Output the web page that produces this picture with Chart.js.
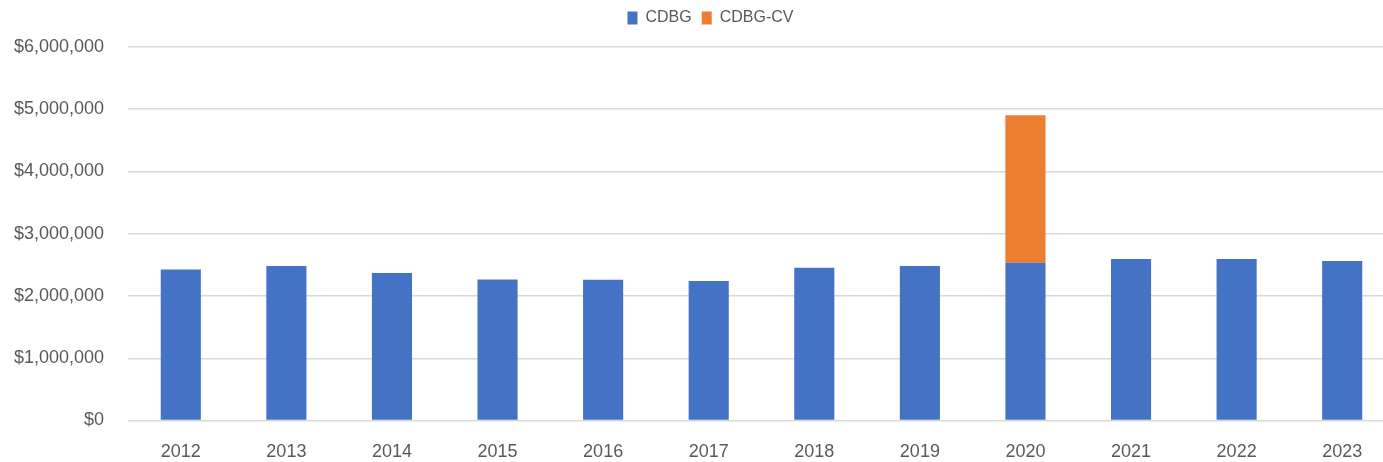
<!DOCTYPE html>
<html>
<head>
<meta charset="utf-8">
<script src="https://cdn.jsdelivr.net/npm/chart.js@4"></script>
<style>
  body { margin: 0; background: #fff; overflow: hidden; }
  #wrap { width: 1395px; height: 462px; position: relative; }
</style>
</head>
<body>
<div id="wrap"><canvas id="grafico"></canvas></div>
<script>
const years = ['2012', '2013', '2014', '2015', '2016', '2017', '2018', '2019', '2020', '2021', '2022', '2023'];
const cdbg = [2425000, 2480000, 2370000, 2265000, 2262000, 2240000, 2455000, 2480000, 2535000, 2595000, 2595000, 2562000];
const cdbgCv = [0, 0, 0, 0, 0, 0, 0, 0, 2370000, 0, 0, 0];
const yTicks = [0, 1000000, 2000000, 3000000, 4000000, 5000000, 6000000];

const gris = '#595959';
const fuente = { family: "'Liberation Sans', Arial, sans-serif", size: 18 };
const fuenteLeyenda = { family: "'Liberation Sans', Arial, sans-serif", size: 16 };
const extraLeyenda = 11; // espacio extra bajo la leyenda
const corrLeyenda = 13;  // desplazamiento horizontal de la leyenda

const legendMargin = {
    id: 'legendMargin',
    beforeInit(chart) {
        const fitOrig = chart.legend.fit;
        chart.legend.fit = function () {
            fitOrig.bind(chart.legend)();
            this.height += extraLeyenda;
        };
    },
    afterLayout(chart) {
        chart.legend.left += corrLeyenda;
        chart.legend.right += corrLeyenda;
    }
};

const ctx = document.getElementById('grafico').getContext('2d');
const chart = new Chart(ctx, {
    type: 'bar',
    data: {
        labels: years,
        datasets: [
            {
                label: 'CDBG',
                data: cdbg,
                backgroundColor: '#4472C4',
                barPercentage: 0.38,
                categoryPercentage: 1
            },
            {
                label: 'CDBG-CV',
                data: cdbgCv,
                backgroundColor: '#ED7D31',
                barPercentage: 0.38,
                categoryPercentage: 1
            }
        ]
    },
    options: {
        responsive: true,
        maintainAspectRatio: false,
        animation: false,
        layout: { padding: { left: 0, top: 0, bottom: 0, right: 0 } },
        plugins: {
            legend: {
                position: 'top',
                labels: {
                    color: gris,
                    font: fuenteLeyenda,
                    boxWidth: 10,
                    boxHeight: 13,
                    padding: 10
                }
            },
            tooltip: { enabled: false }
        },
        scales: {
            x: {
                stacked: true,
                grid: { display: false, drawTicks: false },
                border: { display: false },
                ticks: { color: gris, font: fuente, padding: 21, maxRotation: 0 },
                afterFit: (scale) => { scale.height = 41.5; }
            },
            y: {
                stacked: true,
                min: 0,
                max: 6000000,
                afterBuildTicks: (axis) => { axis.ticks = yTicks.map(v => ({ value: v })); },
                grid: { color: '#d9d9d9', lineWidth: 1.5, drawTicks: false },
                border: { display: false },
                ticks: {
                    color: gris,
                    font: fuente,
                    padding: 24,
                    callback: (v) => '$' + v.toLocaleString('en-US')
                },
                afterFit: (scale) => { scale.width = 128; }
            }
        }
    },
    plugins: [legendMargin]
});
</script>
</body>
</html>
